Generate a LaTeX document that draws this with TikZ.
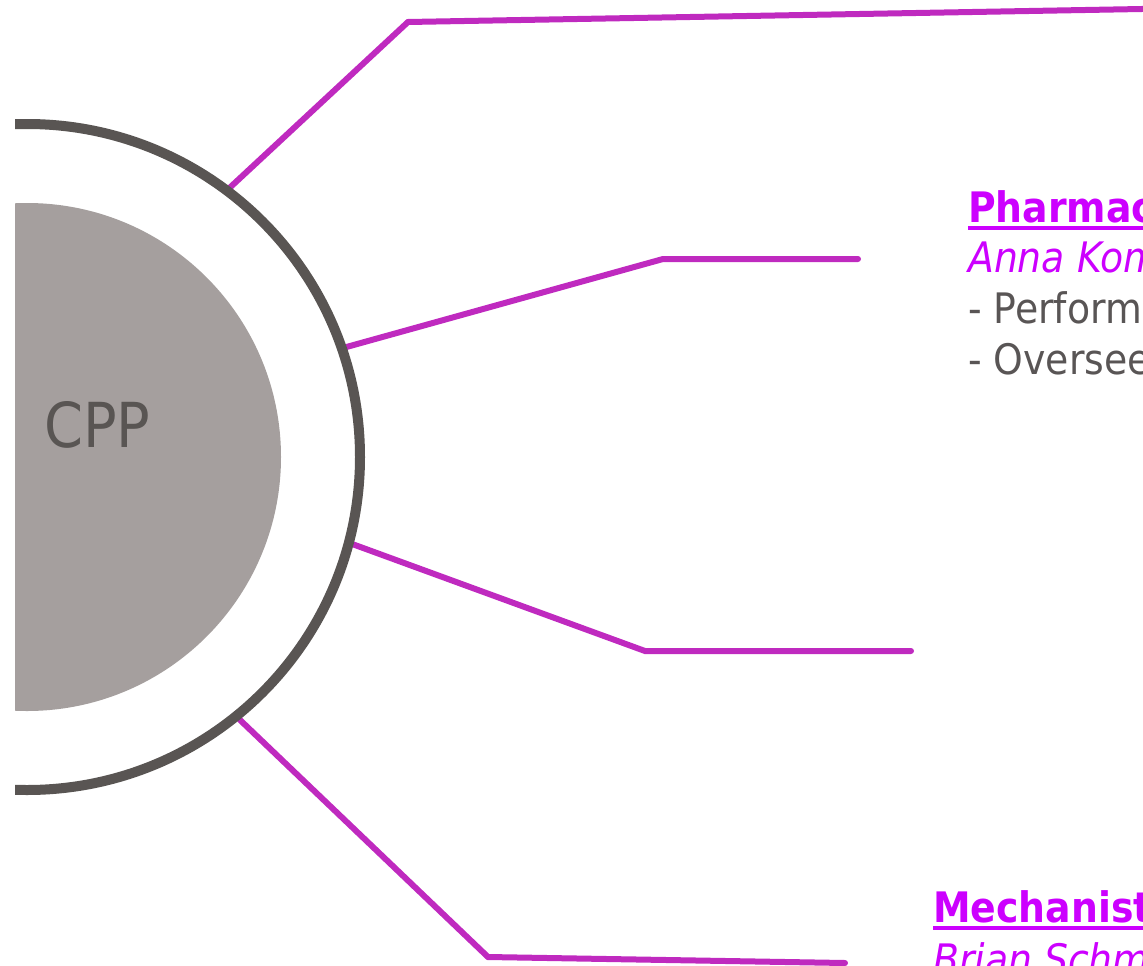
\documentclass[tikz,border=0pt]{standalone}
\usepackage{fontspec}
\setmainfont{DejaVu Sans Condensed}
\newcommand{\myuline}[1]{\setbox0\hbox{#1}\rlap{\rule[-8pt]{\wd0}{4pt}}\box0}
\definecolor{linkc}{HTML}{BF2ABF}
\definecolor{titlec}{HTML}{CC00FF}
\definecolor{bodyc}{HTML}{595555}
\definecolor{ringc}{HTML}{595553}
\definecolor{corec}{HTML}{A59F9E}
\pgfdeclarelayer{bg}
\pgfsetlayers{bg,main}
\tikzset{
  link/.style={draw=linkc, line width=6pt, line cap=round, line join=miter},
  ringnode/.style={circle, draw=ringc, line width=10pt, minimum size=666pt, inner sep=0pt},
  corenode/.style={circle, fill=corec, minimum size=508pt, inner sep=0pt},
  titletext/.style={anchor=base west, inner sep=0pt, text=titlec, font=\bfseries\fontsize{42}{51}\selectfont},
  nametext/.style={anchor=base west, inner sep=0pt, text=titlec, font=\itshape\fontsize{42}{51}\selectfont},
  bodytext/.style={anchor=base west, inner sep=0pt, text=bodyc, font=\fontsize{42}{51}\selectfont},
  cpptext/.style={anchor=base west, inner sep=0pt, text=ringc, font=\fontsize{62}{70}\selectfont}
}
\begin{document}
\begin{tikzpicture}[x=1pt,y=-1pt]
\useasboundingbox (0,0) rectangle (1143,966);
\begin{scope}
\clip (15,-20) rectangle (1200,1000);
\node[corenode] (core) at (27,457) {};
\node[ringnode] (ring) at (27,457) {};
\node[cpptext] (cpp) at (44,447) {CPP};
\coordinate (e1) at (408,22);
\coordinate (f1) at (1170,8.5);
\coordinate (e2) at (663,259);
\coordinate (f2) at (858,259);
\coordinate (e3) at (645,651);
\coordinate (f3) at (911,651);
\coordinate (e4) at (488,957);
\coordinate (f4) at (845,963);
\begin{pgfonlayer}{bg}
\draw[link] (ring.53) -- (e1) -- (f1);
\draw[link] (ring.19) -- (e2) -- (f2);
\draw[link] (ring.-15) -- (e3) -- (f3);
\draw[link] (ring.-51.5) -- (e4) -- (f4);
\end{pgfonlayer}
\node[titletext] (pharmT) at (968,222) {\myuline{Pharmacology}};
\node[nametext] (pharmN) at (968,272) {Anna Komarova};
\node[bodytext] (pharmA) at (968,323) {- Performs};
\node[bodytext] (pharmB) at (968,374) {- Oversees};
\node[titletext] (mechT) at (933,922) {\myuline{Mechanistic}};
\node[nametext] (mechN) at (933,974) {Brian Schmidt};
\end{scope}
\end{tikzpicture}
\end{document}
